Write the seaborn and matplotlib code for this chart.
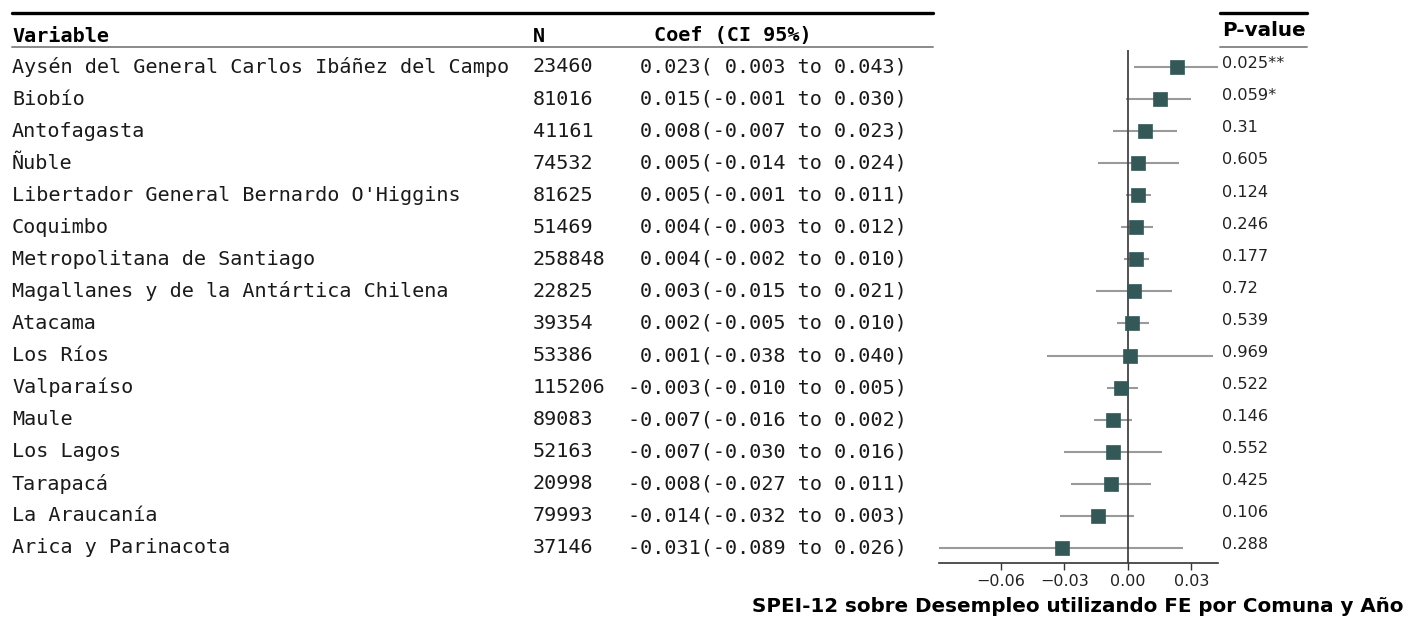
import matplotlib
matplotlib.use("Agg")
import matplotlib.pyplot as plt
import matplotlib.transforms as mtransforms
from matplotlib.lines import Line2D
import seaborn as sns
import pandas as pd

# ---------------- data ----------------
variables = [
    "Aysén del General Carlos Ibáñez del Campo",
    "Biobío",
    "Antofagasta",
    "Ñuble",
    "Libertador General Bernardo O'Higgins",
    "Coquimbo",
    "Metropolitana de Santiago",
    "Magallanes y de la Antártica Chilena",
    "Atacama",
    "Los Ríos",
    "Valparaíso",
    "Maule",
    "Los Lagos",
    "Tarapacá",
    "La Araucanía",
    "Arica y Parinacota",
]
n_obs = [23460, 81016, 41161, 74532, 81625, 51469, 258848, 22825,
         39354, 53386, 115206, 89083, 52163, 20998, 79993, 37146]
coef = [0.023, 0.015, 0.008, 0.005, 0.005, 0.004, 0.004, 0.003,
        0.002, 0.001, -0.003, -0.007, -0.007, -0.008, -0.014, -0.031]
ci_low = [0.003, -0.001, -0.007, -0.014, -0.001, -0.003, -0.002, -0.015,
          -0.005, -0.038, -0.010, -0.016, -0.030, -0.027, -0.032, -0.089]
ci_high = [0.043, 0.030, 0.023, 0.024, 0.011, 0.012, 0.010, 0.021,
           0.010, 0.040, 0.005, 0.002, 0.016, 0.011, 0.003, 0.026]
pvalues = ["0.025**", "0.059*", "0.31", "0.605", "0.124", "0.246", "0.177", "0.72",
           "0.539", "0.969", "0.522", "0.146", "0.552", "0.425", "0.106", "0.288"]
xticks = [-0.06, -0.03, 0.00, 0.03]
xlabel = "SPEI-12 sobre Desempleo utilizando FE por Comuna y Año"
headers = ["Variable", "N", "Coef (CI 95%)", "P-value"]

df = pd.DataFrame({"variable": variables, "n": n_obs, "coef": coef,
                   "lo": ci_low, "hi": ci_high, "p": pvalues})
df["row"] = range(len(df))

# ---------------- figure ----------------
sns.set_theme(style="white")
plt.rcParams["font.family"] = ["DejaVu Sans"]

W, H = 1408, 617
fig = plt.figure(figsize=(W / 100, H / 100), dpi=100)
ax = fig.add_axes([939 / W, 1 - 563 / H, (1218 - 939) / W, (563 - 50) / H])

ax.hlines(df["row"], df["lo"], df["hi"], color="#9a9a9a", lw=1.5, zorder=1)
ax.axvline(0, color="#444444", lw=1.3, zorder=2)
sns.scatterplot(data=df, x="coef", y="row", marker="s", s=90, color="#345858",
                edgecolor="#345858", linewidth=0.5, ax=ax, zorder=3, legend=False)

ax.set_xlim(min(ci_low), 0.0425)
ax.set_ylim(len(df) - 1 + 0.47, -0.53)
ax.set_xticks(xticks)
ax.set_xticklabels([f"{t:.2f}".replace("-", "\u2212") for t in xticks],
                   fontsize=11.5, color="#222222")
ax.set_yticks([])
ax.set_xlabel("")
ax.set_ylabel("")
for s in ["left", "right", "top"]:
    ax.spines[s].set_visible(False)
ax.spines["bottom"].set_color("#333333")
ax.spines["bottom"].set_linewidth(1.2)
ax.tick_params(axis="x", bottom=True, length=5, width=1, color="#333333", pad=3)

# ---------------- table text ----------------
tr = mtransforms.blended_transform_factory(fig.transFigure, ax.transData)
mono = "DejaVu Sans Mono"
fs = 14.5
tc = "#1a1a1a"
for _, r in df.iterrows():
    y = r["row"]
    fig.text(12 / W, y, r["variable"], transform=tr, family=mono, fontsize=fs,
             va="center", ha="left", color=tc)
    fig.text(533 / W, y, f"{r['n']}", transform=tr, family=mono, fontsize=fs,
             va="center", ha="left", color=tc)
    lo_s = f"{r['lo']:.3f}" if r["lo"] < 0 else f" {r['lo']:.3f}"
    ci_txt = f"{r['coef']:.3f}({lo_s} to {r['hi']:.3f})"
    fig.text(907 / W, y, ci_txt, transform=tr, family=mono, fontsize=fs,
             va="center", ha="right", color=tc)
    fig.text(1222 / W, y - 0.1, r["p"], transform=tr, fontsize=11.6,
             va="center", ha="left", color="#222222")

# headers
hy = 1 - 36 / H
fig.text(12 / W, hy, headers[0], family=mono, fontsize=fs, fontweight="bold",
         va="center", ha="left", color="black")
fig.text(533 / W, hy, headers[1], family=mono, fontsize=fs, fontweight="bold",
         va="center", ha="left", color="black")
fig.text(654 / W, hy, headers[2], family=mono, fontsize=fs, fontweight="bold",
         va="center", ha="left", color="black")
fig.text(1222 / W, 1 - 31 / H, headers[3], fontsize=14.3, fontweight="bold",
         va="center", ha="left", color="black")

# rules
for x0, x1 in [(12, 933), (1220, 1307)]:
    fig.add_artist(Line2D([x0 / W, x1 / W], [1 - 13 / H, 1 - 13 / H],
                          transform=fig.transFigure, color="black", lw=2.4))
    fig.add_artist(Line2D([x0 / W, x1 / W], [1 - 47 / H, 1 - 47 / H],
                          transform=fig.transFigure, color="#8a8a8a", lw=1.4))

fig.text(1078 / W, 1 - 606 / H, xlabel, fontsize=14.3, fontweight="bold",
         ha="center", va="center", color="black")

fig.savefig("out.png", dpi=100, facecolor="white")
